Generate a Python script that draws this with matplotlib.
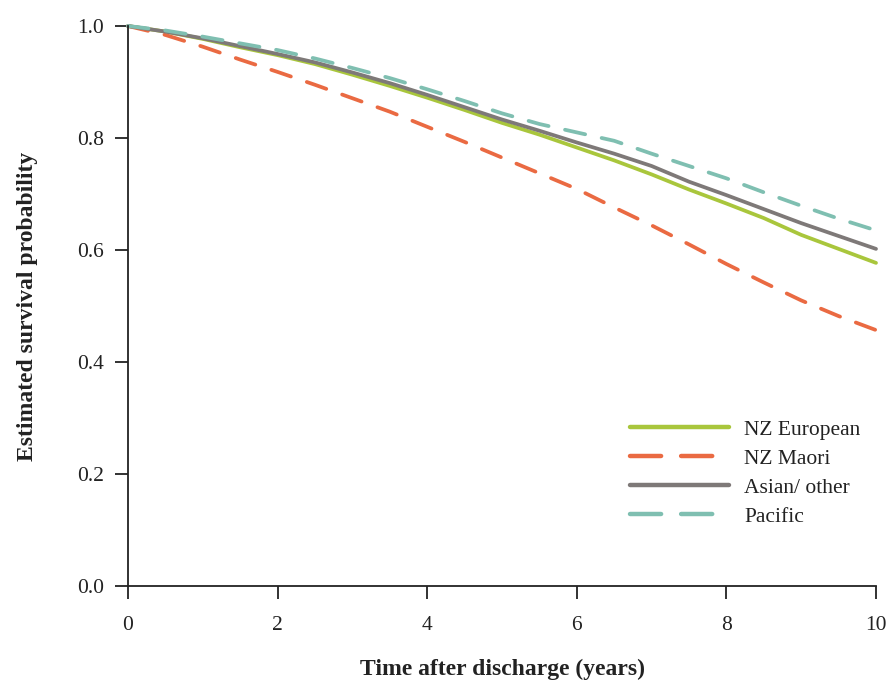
import matplotlib
matplotlib.use("Agg")
import matplotlib.pyplot as plt

# Kaplan-Meier survival estimates by ethnicity, read at half-year steps
years = [0.0, 0.5, 1.0, 1.5, 2.0, 2.5, 3.0, 3.5, 4.0, 4.5, 5.0,
         5.5, 6.0, 6.5, 7.0, 7.5, 8.0, 8.5, 9.0, 9.5, 10.0]

nz_european = [1.000, 0.990, 0.977, 0.962, 0.948, 0.932, 0.913, 0.893, 0.872, 0.850, 0.827,
               0.806, 0.783, 0.760, 0.735, 0.708, 0.683, 0.657, 0.627, 0.602, 0.577]
nz_maori = [1.000, 0.984, 0.963, 0.940, 0.918, 0.895, 0.871, 0.847, 0.820, 0.793, 0.765,
            0.737, 0.709, 0.676, 0.644, 0.610, 0.575, 0.542, 0.510, 0.482, 0.457]
asian_other = [1.000, 0.990, 0.978, 0.964, 0.950, 0.935, 0.917, 0.898, 0.877, 0.855, 0.833,
               0.813, 0.792, 0.772, 0.750, 0.722, 0.698, 0.673, 0.648, 0.625, 0.602]
pacific = [1.000, 0.992, 0.981, 0.969, 0.957, 0.942, 0.925, 0.907, 0.887, 0.866, 0.844,
           0.825, 0.810, 0.795, 0.772, 0.750, 0.728, 0.703, 0.679, 0.656, 0.635]

labels = ["NZ European", "NZ Maori", "Asian/ other", "Pacific"]
xticks = [0, 2, 4, 6, 8, 10]
yticks = [0.0, 0.2, 0.4, 0.6, 0.8, 1.0]

plt.rcParams["font.family"] = ["Liberation Serif", "DejaVu Serif"]

fig = plt.figure(figsize=(8.89, 6.81), dpi=100)
ax = fig.add_axes([128 / 889, 95 / 681, 748 / 889, 560 / 681])

series = [
    (nz_european, "#a9c63c", "-"),
    (nz_maori, "#ea6a42", (0, (5.5, 4.5))),
    (asian_other, "#7e7978", "-"),
    (pacific, "#7fbfb1", (0, (5.5, 4.5))),
]
for (vals, color, ls), lab in zip(series, labels):
    ax.plot(years, vals, color=color, linestyle=ls, linewidth=2.7,
            dash_capstyle="round", solid_capstyle="round", label=lab, clip_on=False)

ax.set_xlim(0, 10)
ax.set_ylim(0, 1.0)
ax.set_xticks(xticks)
ax.set_xticklabels([str(t) for t in xticks])
ax.set_yticks(yticks)
ax.set_yticklabels([f"{t:.1f}" for t in yticks])

for side in ("top", "right"):
    ax.spines[side].set_visible(False)
for side in ("left", "bottom"):
    ax.spines[side].set_linewidth(1.3)
    ax.spines[side].set_color("#222222")
ax.tick_params(axis="both", direction="out", length=9.5, width=1.3, color="#222222",
               labelsize=15.5, labelcolor="#222222")
ax.tick_params(axis="y", pad=8)
ax.tick_params(axis="x", pad=12)

ax.set_xlabel("Time after discharge (years)", fontsize=17, fontweight="bold",
              color="#222222", labelpad=17)
ax.set_ylabel("Estimated survival probability", fontsize=17, fontweight="bold",
              color="#222222", labelpad=28)

leg = ax.legend(loc="lower right", bbox_to_anchor=(1.005, 0.071), frameon=False,
                fontsize=15.5, handlelength=4.6, handletextpad=0.7, labelspacing=0.42)
for t in leg.get_texts():
    t.set_color("#222222")
for h, (_, _, ls) in zip(leg.get_lines(), series):
    h.set_linewidth(3.2)
    if ls != "-":
        h.set_linestyle((0, (7, 4.5)))

fig.savefig("out.png", dpi=100)
